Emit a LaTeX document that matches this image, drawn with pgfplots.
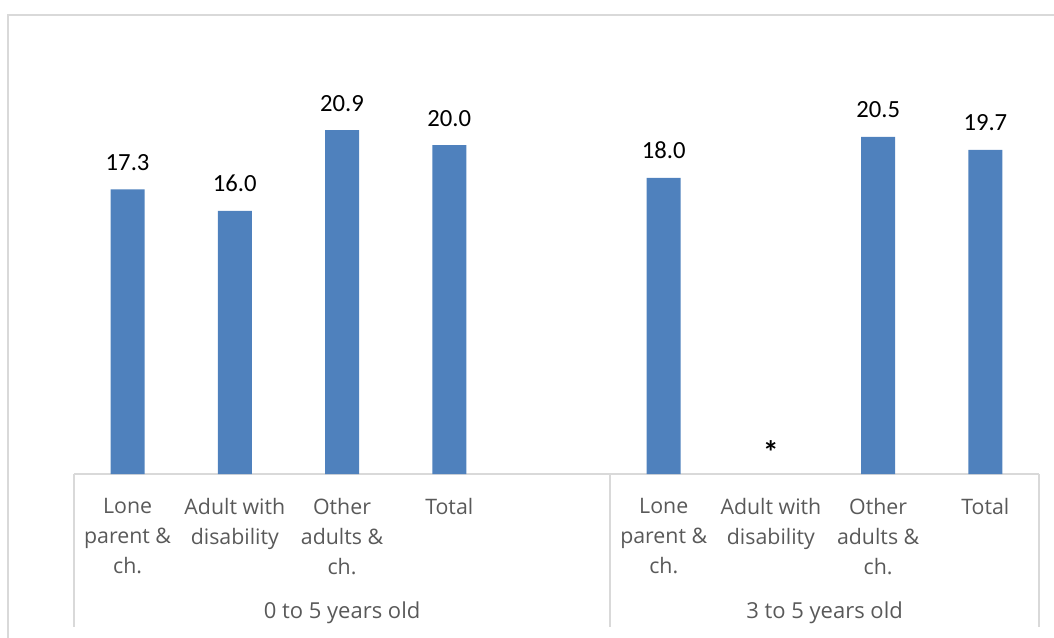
\documentclass[border=0pt]{standalone}
\usepackage{pgfplots}
\pgfplotsset{compat=1.18}
\usepackage{fontspec}
\setmainfont{Carlito}
\newfontfamily\osans{Open Sans}
\definecolor{barblue}{HTML}{4F81BD}
\definecolor{gridgray}{HTML}{D9D9D9}
\definecolor{labgray}{HTML}{595959}
\begin{document}
\begin{tikzpicture}[x=0.75pt,y=0.75pt]
\begin{axis}[
  name=ax,
  scale only axis, width=723.75pt, height=308.4pt,
  xmin=-0.5, xmax=8.5, ymin=0, ymax=25,
  axis y line=none, axis x line=bottom,
  x axis line style={-, gridgray, line width=1.1pt},
  ytick=\empty,
  xtick={0,1,2,3,5,6,7,8},
  xticklabels={{Lone\\parent \&\\ch.},{Adult with\\disability},{Other\\adults \&\\ch.},{Total},
               {Lone\\parent \&\\ch.},{Adult with\\disability},{Other\\adults \&\\ch.},{Total}},
  major tick length=0pt,
  xticklabel style={font=\osans\fontsize{16}{22.5}\selectfont, text=labgray, align=center, anchor=north, inner sep=0pt, yshift=-17.8pt},
  ybar, bar width=25.5pt,
  /pgf/number format/assume math mode=true,
  nodes near coords={\pgfmathprintnumber[fixed,fixed zerofill,precision=1]{\pgfplotspointmeta}},
  every node near coord/.append style={font=\fontsize{18.5}{22}\selectfont, text=black, anchor=base, yshift=14.25pt},
  clip=false,
]
\addplot[fill=barblue, draw=none] coordinates {(0,17.3) (1,16.0) (2,20.9) (3,20.0) (5,18.0) (7,20.5) (8,19.7)};
\draw[gridgray, line width=1.1pt] (axis cs:-0.5,0) -- ([yshift=-114.75pt]axis cs:-0.5,0);
\draw[gridgray, line width=1.1pt] (axis cs:4.5,0) -- ([yshift=-114.75pt]axis cs:4.5,0);
\draw[gridgray, line width=1.1pt] (axis cs:8.5,0) -- ([yshift=-114.75pt]axis cs:8.5,0);
\node[font=\osans\fontsize{16.5}{20}\selectfont, text=labgray, anchor=base, yshift=-108pt] at (axis cs:2,0) {0 to 5 years old};
\node[font=\osans\fontsize{16.5}{20}\selectfont, text=labgray, anchor=base, yshift=-108pt] at (axis cs:6.5,0) {3 to 5 years old};
\node[font=\bfseries\fontsize{24}{26}\selectfont, anchor=base, yshift=8pt] at (axis cs:6,0) {*};
\end{axis}
\pgfresetboundingbox
\useasboundingbox ([shift={(-74,-163)}]ax.south west) rectangle ([shift={(980,474)}]ax.south west);
\draw[gridgray, line width=1.1pt] ([shift={(-66,-200)}]ax.south west) -- ([shift={(-66,459)}]ax.south west) -- ([shift={(1100,459)}]ax.south west);
\end{tikzpicture}
\end{document}
